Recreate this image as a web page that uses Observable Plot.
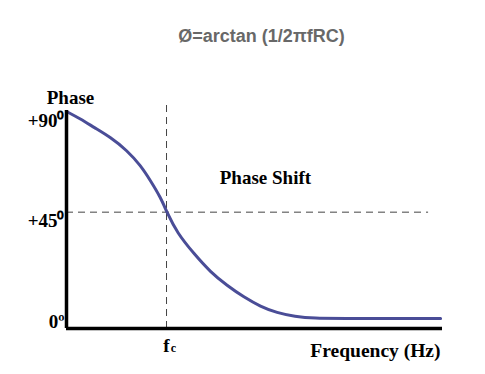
<!DOCTYPE html>
<html>
<head>
<meta charset="utf-8">
<script src="https://cdn.jsdelivr.net/npm/d3@7"></script>
<script src="https://cdn.jsdelivr.net/npm/@observablehq/plot@0.6"></script>
<style>
  html, body { margin: 0; padding: 0; background: #fff; }
  #wrap { position: relative; width: 485px; height: 374px; }
  #title { position: absolute; top: 26px; left: 0; width: 523px; text-align: center;
    font: bold 18px "Liberation Sans", Arial, sans-serif; color: #686868; }
  #chart { position: absolute; top: 0; left: 0; }
</style>
</head>
<body>
<div id="wrap"><div id="chart"></div><div id="title">Ø=arctan (1/2πfRC)</div></div>
<script>
// Frequency (relative units, 0..100) and phase (degrees)
const freq  = [0, 3.7, 7.3, 11.7, 16.1, 19.7, 22.3, 25.0, 26.8, 29.4, 33.9, 38.3, 42.7, 47.2, 51.6, 56.0, 60.5, 66.7, 70.2, 99.5];
const phase = [90, 86.7, 82.9, 78.5, 72.6, 65.9, 59.2, 51.7, 44.6, 35.8, 26.4, 18.2, 12.2, 7.0, 2.8, 0.0, -1.6, -2.5, -2.5, -2.5];
const fc = 26.6;
const yTickValues = [90, 45, 0];
const yTickLabels = ["+90\u2070", "+45\u2070", "0\u00BA"];
const xMin = 0, xMax = 100, yMin = -7, yMax = 90;

const curveData = freq.map((f, i) => ({f, p: phase[i]}));
const ticks = yTickValues.map((v, i) => ({v, label: yTickLabels[i]}));
const serif = "'Liberation Serif', 'Times New Roman', serif";

const chart = Plot.plot({
  width: 485, height: 374,
  marginLeft: 66, marginRight: 43, marginTop: 111, marginBottom: 46,
  x: {domain: [xMin, xMax], axis: null},
  y: {domain: [yMin, yMax], axis: null},
  style: {background: "#fff"},
  marks: [
    // dashed reference lines
    Plot.ruleX([fc], {y1: yMin, y2: 93.6, stroke: "#444", strokeWidth: 1, strokeDasharray: "7,5"}),
    Plot.ruleY([45], {x1: xMin, x2: 96.3, stroke: "#444", strokeWidth: 1, strokeDasharray: "7,5"}),
    // curve
    Plot.line(curveData, {x: "f", y: "p", curve: "basis", stroke: "#4a4d97", strokeWidth: 3}),
    // axes lines
    Plot.ruleX([xMin], {y1: yMin, y2: 90.4, stroke: "#000", strokeWidth: 3.5}),
    Plot.ruleY([yMin], {x1: xMin, x2: xMax, stroke: "#000", strokeWidth: 3.5}),
    // y tick labels
    Plot.text(ticks, {x: xMin, y: "v", text: "label", textAnchor: "end", dx: -2, dy: 9,
      fontSize: 19, fontWeight: "bold", fontFamily: serif, fill: "#000"}),
    // axis titles
    Plot.text(["Phase"], {x: xMin, y: yMax, dx: 4, dy: -14, textAnchor: "middle",
      fontSize: 19, fontWeight: "bold", fontFamily: serif, fill: "#000"}),
    Plot.text(["Frequency (Hz)"], {x: xMax, y: yMin, dx: -2, dy: 22, textAnchor: "end",
      fontSize: 19.5, fontWeight: "bold", fontFamily: serif, fill: "#000"}),
    Plot.text(["f"], {x: fc, y: yMin, dx: 0, dy: 17, textAnchor: "middle",
      fontSize: 19, fontWeight: "bold", fontFamily: serif, fill: "#000"}),
    Plot.text(["c"], {x: fc, y: yMin, dx: 7, dy: 20, textAnchor: "middle",
      fontSize: 12, fontWeight: "bold", fontFamily: serif, fill: "#000"}),
    Plot.text(["Phase Shift"], {x: 52.9, y: 60.5, textAnchor: "middle",
      fontSize: 19, fontWeight: "bold", fontFamily: serif, fill: "#000"})
  ]
});
document.getElementById("chart").appendChild(chart);
</script>
</body>
</html>
